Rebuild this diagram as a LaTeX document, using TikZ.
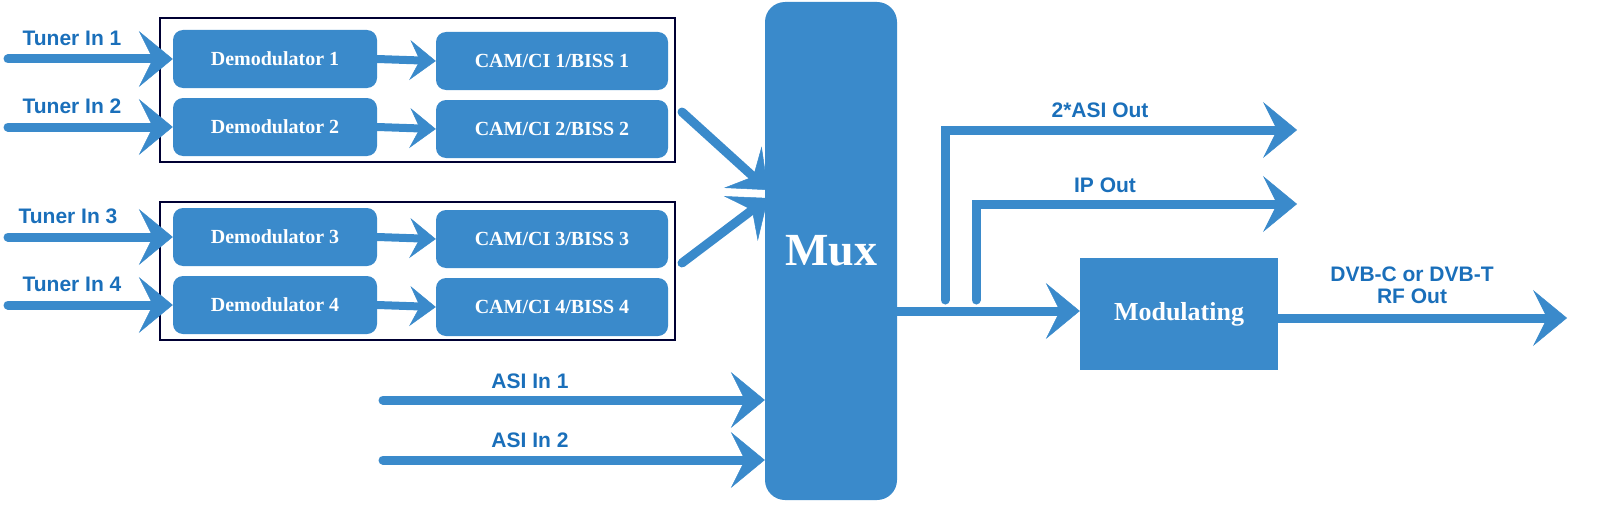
\documentclass[tikz,border=0pt]{standalone}
\usepackage{fontspec}
\setmainfont{Liberation Serif}
\newfontfamily\lab{Liberation Sans}
\usetikzlibrary{arrows.meta}
\definecolor{bb}{HTML}{3A8ACB}
\definecolor{tx}{HTML}{1A6FBA}
\begin{document}
\begin{tikzpicture}[x=1pt,y=-1pt,
 blk/.style={draw=none,fill=bb,rounded corners=10pt,text=white,font=\bfseries\fontsize{20}{22}\selectfont,inner sep=0},
 ln/.style={draw=bb,line width=9pt,line cap=round,-{Stealth[length=34pt,width=56pt,inset=14pt,line width=0.5pt,fill=bb]}},
 lab/.style={text=tx,font=\lab\bfseries\fontsize{21}{23}\selectfont,inner sep=0}]
\node[draw=black!80!blue,line width=1.2pt,minimum width=515pt,minimum height=144pt,inner sep=0] (g1) at (417.5,90) {};
\node[draw=black!80!blue,line width=1.2pt,minimum width=515pt,minimum height=138pt,inner sep=0] (g2) at (417.5,271) {};
\foreach \i/\y in {1/59,2/127,3/237,4/305}{
 \node[blk,minimum width=204pt,minimum height=58pt] (d\i) at (275,\y) {Demodulator \i};
 \node[blk,minimum width=232pt,minimum height=58pt] (c\i) at (552,\y+2) {CAM/CI \i/BISS \i};
 \draw[ln,line width=8pt,-{Stealth[length=26pt,width=40pt,inset=10pt,line width=0.5pt,fill=bb]}] (d\i.east) -- (c\i.west);
 \coordinate (t\i) at (8,\y);
 \draw[ln] (t\i) -- (d\i.west);
}
\node[lab] (l1) at (72,38) {Tuner In 1};
\node[lab] (l2) at (72,106) {Tuner In 2};
\node[lab] (l3) at (68,216) {Tuner In 3};
\node[lab] (l4) at (72,284) {Tuner In 4};
\node[blk,rounded corners=20pt,minimum width=132pt,minimum height=498pt,font=\bfseries\fontsize{46}{50}\selectfont] (mux) at (831,251) {Mux};
\coordinate (s1) at (682,112);
\coordinate (s2) at (682,263);
\coordinate (m1) at (768,190);
\coordinate (m2) at (768,198);
\draw[ln] (s1) -- (m1);
\draw[ln] (s2) -- (m2);
\coordinate (a1) at (383,400);
\coordinate (a2) at (383,460);
\draw[ln] (a1) -- (a1 -| mux.west);
\draw[ln] (a2) -- (a2 -| mux.west);
\node[lab] (la1) at (530,381) {ASI In 1};
\node[lab] (la2) at (530,440) {ASI In 2};
\node[blk,rounded corners=0pt,minimum width=198pt,minimum height=112pt,font=\bfseries\fontsize{26}{28}\selectfont] (mod) at (1179,314) {Modulating};
\coordinate (mo) at (897,311);
\draw[ln] (mo) -- (mo -| mod.west);
\coordinate (b1) at (945,300);
\coordinate (b2) at (976,300);
\coordinate (e1) at (1297,130);
\coordinate (e2) at (1297,204);
\draw[ln] (b1) |- (e1);
\draw[ln] (b2) |- (e2);
\coordinate (rf) at (1567,318);
\draw[ln] (mod.east |- rf) -- (rf);
\node[lab] (lo1) at (1100,110) {2*ASI Out};
\node[lab] (lo2) at (1105,185) {IP Out};
\node[lab,align=center] (lo3) at (1412,285) {DVB-C or DVB-T\\[-1pt]RF Out};
\pgfresetboundingbox
\path[use as bounding box] (0,0) rectangle (1600,511);
\end{tikzpicture}
\end{document}
